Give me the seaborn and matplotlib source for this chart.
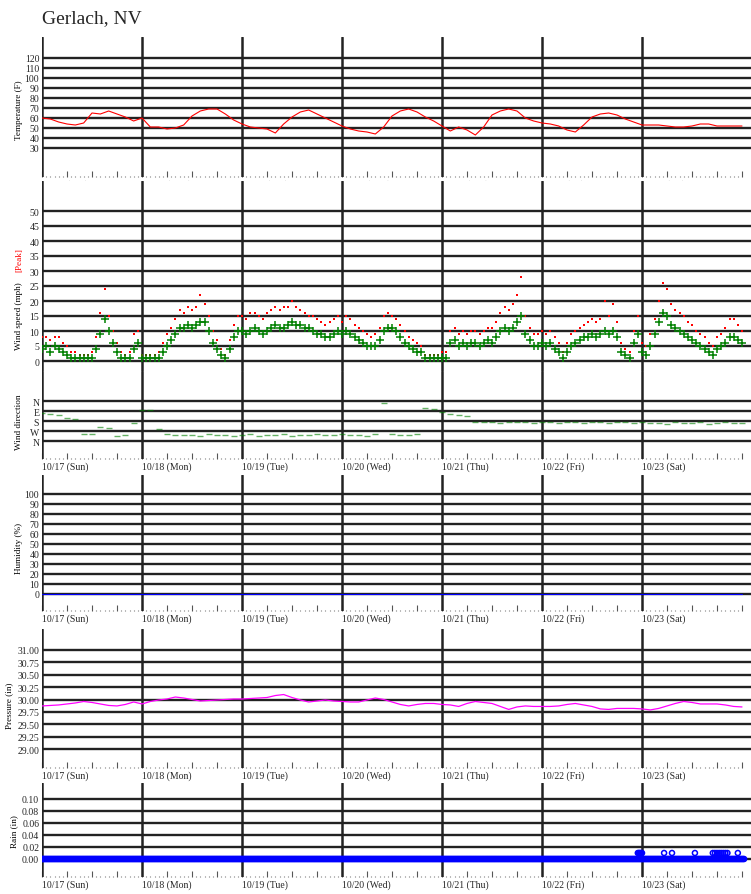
import numpy as np
import pandas as pd
import matplotlib
matplotlib.use("Agg")
import matplotlib.pyplot as plt
import seaborn as sns

# Weather station data, Gerlach NV, 10/17 - 10/23 (hours since 10/17 00:00)
day_labels = ["10/17 (Sun)", "10/18 (Mon)", "10/19 (Tue)", "10/20 (Wed)",
              "10/21 (Thu)", "10/22 (Fri)", "10/23 (Sat)"]

# temperature (F), every 2 hours
temp_f = [60, 59, 56, 54, 53, 55, 65, 64, 67, 64, 61, 57,
          60, 51, 51, 49, 50, 53, 62, 67, 69, 69, 64, 58,
          54, 51, 50, 49, 45, 54, 61, 66, 68, 64, 60, 56,
          52, 49, 47, 46, 44, 51, 62, 67, 69, 66, 61, 57,
          52, 47, 51, 48, 43, 51, 63, 67, 69, 67, 60, 57,
          55, 54, 52, 48, 46, 53, 61, 64, 65, 63, 59, 56,
          53, 53, 53, 52, 51, 51, 52, 54, 54, 52, 52, 52, 52]

# wind speed and peak gust (mph), hourly
wind_mph = [4, 5, 3, 5, 4, 3, 2, 1, 1, 1, 1, 1, 1, 4, 9, 14, 10, 6, 3, 1, 1, 1, 4, 6,
            1, 1, 1, 1, 1, 3, 5, 7, 9, 11, 11, 12, 11, 12, 13, 13, 10, 6, 4, 2, 1, 4, 8, 10,
            10, 9, 10, 11, 10, 9, 10, 11, 12, 11, 11, 12, 13, 12, 12, 11, 11, 10, 9, 9, 8, 8, 9, 10,
            9, 10, 9, 8, 7, 6, 5, 5, 5, 7, 10, 11, 11, 10, 8, 6, 5, 4, 3, 3, 1, 1, 1, 1,
            1, 1, 6, 7, 5, 6, 5, 6, 6, 5, 6, 7, 6, 8, 10, 11, 10, 11, 13, 15, 9, 7, 5, 5,
            6, 5, 6, 4, 3, 1, 3, 5, 6, 7, 8, 8, 9, 8, 9, 10, 9, 10, 8, 3, 2, 1, 6, 9,
            3, 2, 5, 9, 13, 16, 15, 12, 11, 10, 9, 8, 7, 6, 5, 4, 3, 2, 4, 5, 6, 8, 8, 7, 6]
peak_mph = [8, 8, 7, 8, 8, 6, 5, 3, 3, 2, 2, 2, 3, 8, 16, 24, 15, 10, 6, 3, 2, 3, 9, 10,
            2, 2, 2, 2, 3, 6, 9, 11, 14, 17, 16, 18, 17, 18, 22, 19, 15, 10, 7, 4, 2, 7, 12, 15,
            15, 14, 16, 16, 15, 14, 16, 17, 18, 17, 18, 18, 20, 18, 17, 16, 15, 15, 14, 13, 12, 13, 14, 15,
            13, 15, 14, 12, 11, 10, 9, 8, 9, 11, 15, 16, 15, 14, 12, 10, 8, 7, 6, 5, 2, 2, 2, 2,
            3, 3, 10, 11, 9, 10, 9, 10, 10, 9, 10, 11, 11, 13, 16, 18, 17, 19, 22, 28, 15, 11, 9, 9,
            10, 9, 10, 8, 6, 3, 6, 9, 10, 11, 12, 13, 14, 13, 14, 20, 15, 19, 13, 6, 4, 3, 10, 15,
            6, 5, 9, 14, 20, 26, 24, 19, 17, 16, 15, 13, 12, 10, 9, 8, 6, 5, 8, 9, 11, 14, 14, 12, 10]

# wind direction (degrees), every 2 hours
wind_dir = [110, 115, 130, 155, 160, 300, 300, 230, 240, 315, 310, 200,
            80, 85, 250, 300, 310, 305, 310, 315, 300, 310, 305, 315,
            310, 300, 315, 305, 310, 300, 315, 310, 305, 300, 310, 305,
            300, 310, 305, 315, 300, 20, 300, 305, 310, 300, 60, 70,
            100, 120, 130, 135, 185, 190, 185, 195, 190, 185, 190, 195,
            185, 190, 200, 185, 190, 195, 185, 190, 200, 190, 185, 195,
            190, 195, 200, 205, 190, 195, 200, 190, 205, 195, 190, 200, 195]

# humidity sensor reported 0 for the whole week
hum_hours = [0, 168]
hum_pct = [0, 0]

# pressure (inHg), every 2 hours
pressure_in = [29.87, 29.88, 29.89, 29.91, 29.93, 29.96, 29.94, 29.91, 29.88, 29.87, 29.90, 29.95,
               29.91, 29.96, 29.99, 30.01, 30.05, 30.03, 30.00, 29.97, 29.98, 29.99, 30.00, 30.01,
               30.01, 30.02, 30.03, 30.04, 30.08, 30.10, 30.04, 29.99, 29.95, 29.97, 29.99, 29.97,
               29.96, 29.95, 29.95, 29.99, 30.03, 30.00, 29.95, 29.90, 29.87, 29.90, 29.92, 29.92,
               29.90, 29.89, 29.86, 29.92, 29.96, 29.94, 29.92, 29.86, 29.80, 29.85, 29.87, 29.86,
               29.86, 29.86, 29.87, 29.90, 29.92, 29.89, 29.86, 29.81, 29.80, 29.82, 29.82, 29.82,
               29.81, 29.79, 29.82, 29.87, 29.92, 29.96, 29.94, 29.91, 29.91, 29.91, 29.89, 29.86, 29.85]

# rain (in): 15-minute readings, all zero except these tips
rain_tip_hours = [143.0, 143.25, 143.5, 143.75, 144.0, 149.3, 151.2, 156.7,
                  161.0, 161.5, 162.0, 162.5, 163.0, 163.5, 164.0, 164.5, 167.0]
rain_tip_in = [0.01, 0.01, 0.01, 0.01, 0.01, 0.01, 0.01, 0.01,
               0.01, 0.01, 0.01, 0.01, 0.01, 0.01, 0.01, 0.01, 0.01]

hours2 = np.arange(0, 169, 2)
hours1 = np.arange(0, 169, 1)
rain_hours = np.arange(0, 168.75, 0.25)

df_temp = pd.DataFrame({"hour": hours2, "temp": temp_f, "pres": pressure_in, "dir": wind_dir})
df_wind = pd.DataFrame({"hour": hours1, "wind": wind_mph, "peak": peak_mph})
df_rain = pd.DataFrame({"hour": np.concatenate([rain_hours, rain_tip_hours]),
                        "rain": np.concatenate([np.zeros(len(rain_hours)), rain_tip_in])})

sns.set_theme(style="white")
plt.rcParams['font.family'] = ['Liberation Serif', 'DejaVu Serif']

W, H = 751, 895
fig = plt.figure(figsize=(W / 100, H / 100), dpi=100)
XMAX = 709 / 100 * 24
GRID = "#222222"


def make_ax(top, bot):
    return fig.add_axes([42 / W, 1 - bot / H, (W - 42) / W, (bot - top) / H])


def style(ax, yticks, ylabels, ylim, dates=True):
    ax.set_xlim(0, XMAX)
    ax.set_ylim(*ylim)
    for s in ax.spines.values():
        s.set_visible(False)
    ax.set_yticks(yticks)
    ax.set_yticklabels(ylabels, fontsize=7)
    ax.tick_params(axis="y", length=0, pad=2)
    for y in yticks:
        ax.axhline(y, color=GRID, lw=1.7, zorder=1)
    for d in range(7):
        ax.axvline(d * 24, color=GRID, lw=1.8, zorder=1)
    ax.xaxis.set_ticks_position("bottom")
    if dates:
        major = np.arange(0, 169, 6)
        ax.set_xticks(major)
        ax.set_xticklabels([day_labels[int(h // 24)] if h % 24 == 0 and h < 168 else "" for h in major])
        ax.set_xticks(hours1, minor=True)
        ax.tick_params(axis="x", which="major", direction="in", length=4.5, width=0.8,
                       color="#555555", pad=2, labelsize=7)
        ax.tick_params(axis="x", which="minor", direction="in", length=0.8, width=0.8, color="#777777")
        for lab in ax.get_xticklabels():
            lab.set_ha("left")
    else:
        ax.set_xticks([])
    ax.set_xlabel("")
    ax.set_ylabel("")


def ylab(text, x, y, color="black"):
    fig.text(x / W, 1 - y / H, text, rotation=90, ha="center", va="center", fontsize=6.6, color=color)


fig.text(42 / W, 1 - 19 / H, "Gerlach, NV", fontsize=14, ha="left", va="center")

# temperature
ax1 = make_ax(38, 178)
sns.lineplot(data=df_temp, x="hour", y="temp", color="red", lw=0.8, ax=ax1, zorder=3)
style(ax1, list(range(30, 121, 10)), [str(v) for v in range(30, 121, 10)], (1, 141))
ylab("Temperature (F)", 19, 110)

# wind speed
ax2 = make_ax(182, 372)
sns.scatterplot(data=df_wind, x="hour", y="peak", marker="s", s=3, color="red", linewidth=0, ax=ax2, zorder=3)
sns.scatterplot(data=df_wind, x="hour", y="wind", marker="+", s=40, color="green", linewidth=1.1, ax=ax2, zorder=4)
style(ax2, list(range(0, 51, 5)), [str(v) for v in range(0, 51, 5)], (-10 / 3, 60), dates=False)
ylab("Wind speed (mph)", 19, 316)
ylab("[Peak]", 19, 260, color="red")

# wind direction
ax3 = make_ax(372, 460)
sns.scatterplot(data=df_temp, x="hour", y="dir", marker="_", s=25, color="green", alpha=0.6,
                linewidth=1, ax=ax3, zorder=3)
style(ax3, [0, 90, 180, 270, 360], ["N", "E", "S", "W", "N"], (522, -270))
ylab("Wind direction", 19, 422)

# humidity
ax4 = make_ax(476, 612)
sns.lineplot(x=hum_hours, y=hum_pct, color="blue", lw=0.8, ax=ax4, zorder=3)
style(ax4, list(range(0, 101, 10)), [str(v) for v in range(0, 101, 10)], (-17, 119))
ylab("Humidity (%)", 19, 548)

# pressure
ax5 = make_ax(630, 769)
sns.lineplot(data=df_temp, x="hour", y="pres", color="magenta", lw=0.9, ax=ax5, zorder=3)
pticks = [29.00, 29.25, 29.50, 29.75, 30.00, 30.25, 30.50, 30.75, 31.00]
style(ax5, pticks, [f"{v:.2f}" for v in pticks], (30 - 68.5 * 0.25 / 12.4, 30 + 70.5 * 0.25 / 12.4))
ylab("Pressure (in)", 9, 706)

# rain
ax6 = make_ax(784, 878)
sns.scatterplot(data=df_rain, x="hour", y="rain", marker="o", s=13, facecolors="none",
                edgecolor="blue", linewidth=1.1, ax=ax6, zorder=3)
rticks = [0.00, 0.02, 0.04, 0.06, 0.08, 0.10]
style(ax6, rticks, [f"{v:.2f}" for v in rticks], (-0.03, 0.76 / 6))
ylab("Rain (in)", 14, 832)

fig.savefig("out.png", dpi=100)
